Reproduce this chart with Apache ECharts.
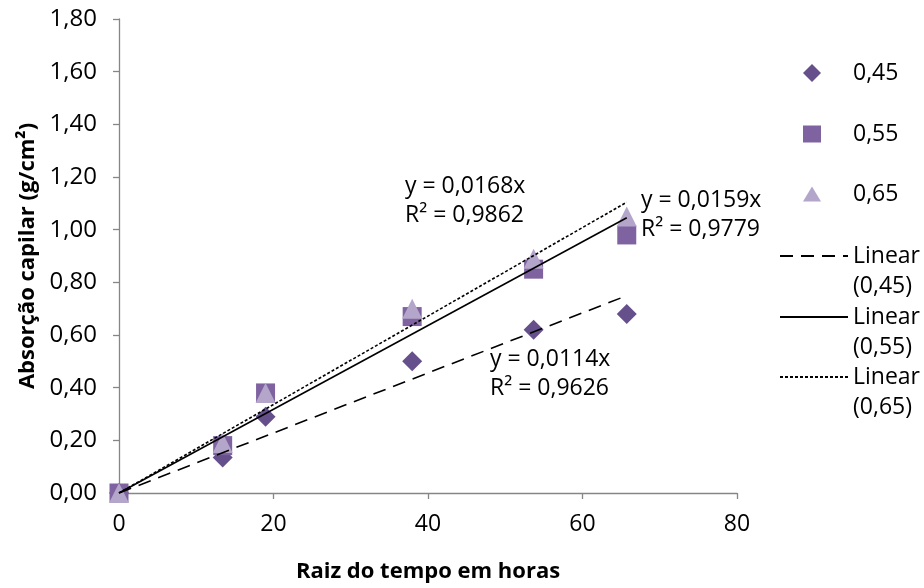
<!DOCTYPE html>
<html>
<head>
<meta charset="utf-8">
<script src="https://cdn.jsdelivr.net/npm/echarts@6/dist/echarts.min.js"></script>
<style>
  html, body { margin: 0; padding: 0; background: #ffffff; }
  #chart { width: 924px; height: 588px; }
</style>
</head>
<body>
<div id="chart"></div>
<script>
// Capillary absorption vs. square root of time, three w/c ratios
const seriesNames = ['0,45', '0,55', '0,65'];
const timeRoot = [0, 13.42, 18.97, 37.95, 53.67, 65.73];
const abs045 = [0, 0.135, 0.29, 0.50, 0.62, 0.68];
const abs055 = [0, 0.18, 0.38, 0.67, 0.85, 0.98];
const abs065 = [0, 0.19, 0.38, 0.70, 0.89, 1.05];

// Linear trend lines through the origin: slope and R² per series
const trendSlopes = ['0,0114', '0,0159', '0,0168'];
const trendR2 = ['0,9626', '0,9779', '0,9862'];

// Axis ranges and tick steps
const xAxisRange = [0, 80, 20];
const yAxisRange = [0, 1.8, 0.2];

const FONT = '"Open Sans", "Noto Sans", sans-serif';
const colors = ['#65508C', '#7F63A1', '#B4A6CB'];
const symbols = ['diamond', 'rect', 'triangle'];
const symbolSizes = [20, 19, [20, 20]];
const legendIconHeights = [18, 17, 15];
const lineTypes = [[13, 8], 'solid', [3, 2]];
const values = [abs045, abs055, abs065];

const num = s => parseFloat(s.replace(',', '.'));
const fmt2 = v => v.toFixed(2).replace('.', ',');

const scatterSeries = seriesNames.map((name, i) => ({
  name: name,
  type: 'scatter',
  symbol: symbols[i],
  symbolSize: symbolSizes[i],
  itemStyle: { color: colors[i], opacity: 1 },
  data: timeRoot.map((x, k) => [x, values[i][k]]),
  z: 2 + i
}));

const xEnd = timeRoot[timeRoot.length - 1];
const trendSeries = seriesNames.map((name, i) => ({
  name: 'Linear (' + name + ')',
  type: 'line',
  symbol: 'none',
  silent: true,
  lineStyle: { color: '#000000', width: 1.6, type: lineTypes[i] },
  data: [[0, 0], [xEnd, num(trendSlopes[i]) * xEnd]],
  z: 10
}));

// Legend entries, one component each so every row sits at its own height
const scatterLegendRows = [73, 134, 194];
const lineLegendRows = [256, 317, 377];
const legends = [];
seriesNames.forEach((name, i) => {
  const h = legendIconHeights[i];
  legends.push({
    data: [name],
    orient: 'vertical',
    left: 803,
    top: scatterLegendRows[i] - 12,
    padding: 0,
    itemWidth: 18,
    itemHeight: h,
    symbolKeepAspect: false,
    selectedMode: false,
    textStyle: {
      fontFamily: FONT, fontSize: 23, lineHeight: 24, color: '#000',
      padding: [0, 0, 0, 27]
    }
  });
  legends.push({
    data: ['Linear (' + name + ')'],
    orient: 'vertical',
    left: 779,
    top: lineLegendRows[i] - 45.75,
    padding: 0,
    itemWidth: 68,
    itemHeight: 14,
    selectedMode: false,
    itemStyle: { color: 'rgba(0,0,0,0)', borderWidth: 0, opacity: 0 },
    formatter: n => ' \n' + n.replace(' ', '\n'),
    textStyle: { fontFamily: FONT, fontSize: 23, lineHeight: 30.5, color: '#000' }
  });
});

// Trend-line equation boxes (left edge, centre of first line)
const eqAnchors = [[490, 359], [641, 200], [405, 186]];
const eqTexts = seriesNames.map((n, i) => ({
  type: 'text',
  x: eqAnchors[i][0],
  y: eqAnchors[i][1] - 14.5,
  silent: true,
  style: {
    text: 'y = ' + trendSlopes[i] + 'x\nR² = ' + trendR2[i],
    fontFamily: FONT,
    fontSize: 23,
    lineHeight: 29,
    fill: '#000',
    verticalAlign: 'top'
  },
  z: 20
}));

const chart = echarts.init(document.getElementById('chart'), null, { renderer: 'canvas' });
chart.setOption({
  animation: false,
  backgroundColor: '#ffffff',
  grid: { left: 119, right: 187, top: 19, bottom: 94, containLabel: false },
  xAxis: {
    type: 'value',
    min: xAxisRange[0], max: xAxisRange[1], interval: xAxisRange[2],
    name: 'Raiz do tempo em horas',
    nameLocation: 'middle',
    nameGap: 68,
    nameTextStyle: { fontFamily: FONT, fontSize: 22, fontWeight: 'bold', color: '#000' },
    axisLine: { onZero: false, lineStyle: { color: '#868686', width: 1.3 } },
    axisTick: { show: true, length: 6, lineStyle: { color: '#868686', width: 1.3 } },
    axisLabel: { fontFamily: FONT, fontSize: 23, color: '#000', margin: 20 },
    splitLine: { show: false }
  },
  yAxis: {
    type: 'value',
    min: yAxisRange[0], max: yAxisRange[1], interval: yAxisRange[2],
    name: 'Absorção capilar (g/cm²)',
    nameLocation: 'middle',
    nameGap: 80,
    nameRotate: 90,
    nameTextStyle: { fontFamily: FONT, fontSize: 22, fontWeight: 'bold', color: '#000' },
    axisLine: { show: true, onZero: false, lineStyle: { color: '#868686', width: 1.3 } },
    axisTick: { show: true, length: 6, lineStyle: { color: '#868686', width: 1.3 } },
    axisLabel: { fontFamily: FONT, fontSize: 24, color: '#000', margin: 22, formatter: fmt2 },
    splitLine: { show: false }
  },
  legend: legends,
  series: scatterSeries.concat(trendSeries),
  graphic: eqTexts
});
</script>
</body>
</html>
